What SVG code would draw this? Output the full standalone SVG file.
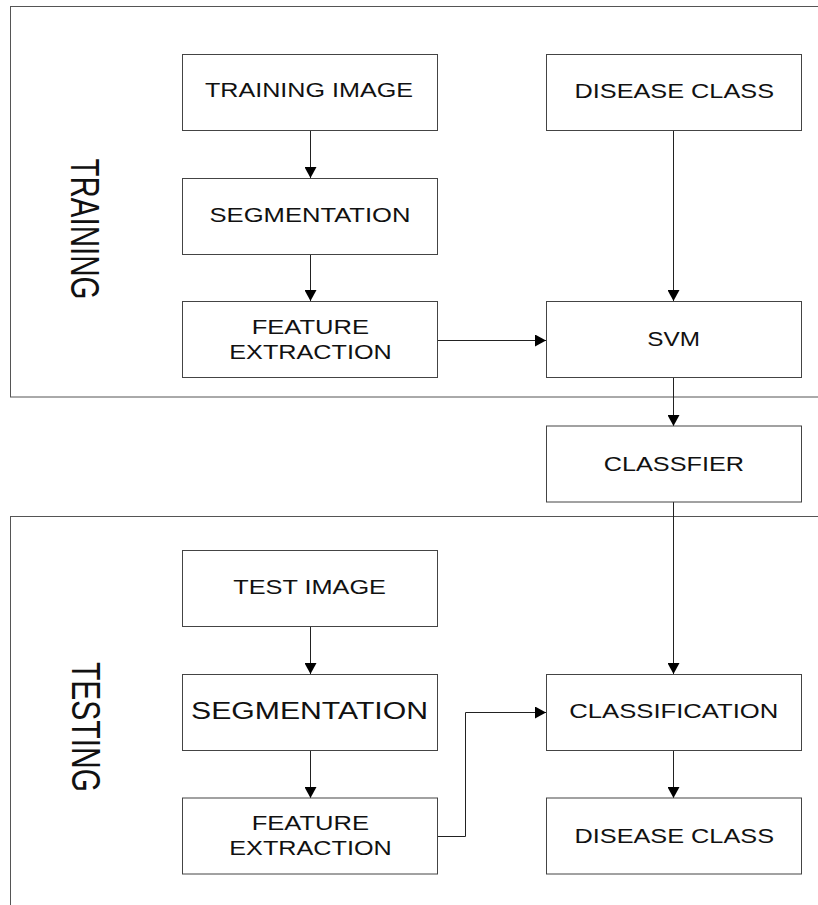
<svg xmlns="http://www.w3.org/2000/svg" width="818" height="905" viewBox="0 0 818 905">
<style>
.frame{fill:none;stroke:#555;stroke-width:1}
.box{fill:#fff;stroke:#444;stroke-width:1}
.t{font-family:"Liberation Sans",Arial,sans-serif;fill:#111}
.c{fill:none;stroke:#222;stroke-width:1}
</style>
<defs>
<marker id="ah" markerWidth="12" markerHeight="12" viewBox="0 0 12 12" refX="11" refY="6" orient="auto" markerUnits="userSpaceOnUse">
<path d="M0,0 L11,6 L0,12 Z" fill="#000"/>
</marker>
</defs>
<rect width="818" height="905" fill="#fff"/>
<g id="frames">
<rect class="frame" x="10.5" y="6.5" width="830" height="390.5"/>
<rect class="frame" x="10.5" y="516.5" width="830" height="420"/>
<text class="t" font-size="40" transform="translate(71,229) rotate(90)" text-anchor="middle" textLength="141" lengthAdjust="spacingAndGlyphs">TRAINING</text>
<text class="t" font-size="40" transform="translate(71.5,727) rotate(90)" text-anchor="middle" textLength="130" lengthAdjust="spacingAndGlyphs">TESTING</text>
</g>
<g id="connectors">
<line class="c" x1="310.5" y1="130" x2="310.5" y2="178" marker-end="url(#ah)"/>
<line class="c" x1="310.5" y1="254" x2="310.5" y2="301" marker-end="url(#ah)"/>
<line class="c" x1="673.5" y1="130" x2="673.5" y2="301" marker-end="url(#ah)"/>
<line class="c" x1="437" y1="340.5" x2="546" y2="340.5" marker-end="url(#ah)"/>
<line class="c" x1="673.5" y1="378" x2="673.5" y2="426" marker-end="url(#ah)"/>
<line class="c" x1="673.5" y1="502" x2="673.5" y2="674" marker-end="url(#ah)"/>
<line class="c" x1="310.5" y1="626" x2="310.5" y2="674" marker-end="url(#ah)"/>
<line class="c" x1="310.5" y1="750" x2="310.5" y2="798" marker-end="url(#ah)"/>
<polyline class="c" points="437,836.5 465.5,836.5 465.5,712.5 546,712.5" marker-end="url(#ah)"/>
<line class="c" x1="673.5" y1="750" x2="673.5" y2="798" marker-end="url(#ah)"/>
</g>
<g id="training-image">
<rect class="box" x="182.5" y="54.5" width="255" height="76"/>
<text class="t" font-size="20.5" x="205" y="97.3" textLength="208" lengthAdjust="spacingAndGlyphs">TRAINING IMAGE</text>
</g>
<g id="disease-class-train">
<rect class="box" x="546.5" y="54.5" width="255" height="76"/>
<text class="t" font-size="20.5" x="574.5" y="98" textLength="199.5" lengthAdjust="spacingAndGlyphs">DISEASE CLASS</text>
</g>
<g id="segmentation-train">
<rect class="box" x="182.5" y="178.5" width="255" height="76"/>
<text class="t" font-size="21" x="209.5" y="221.7" textLength="201" lengthAdjust="spacingAndGlyphs">SEGMENTATION</text>
</g>
<g id="feature-train">
<rect class="box" x="182.5" y="301.5" width="255" height="76"/>
<text class="t" font-size="20" x="251.7" y="334" textLength="117.3" lengthAdjust="spacingAndGlyphs">FEATURE</text>
<text class="t" font-size="20" x="229.3" y="358.7" textLength="162.4" lengthAdjust="spacingAndGlyphs">EXTRACTION</text>
</g>
<g id="svm">
<rect class="box" x="546.5" y="301.5" width="255" height="76"/>
<text class="t" font-size="20" x="647.3" y="345.7" textLength="52.7" lengthAdjust="spacingAndGlyphs">SVM</text>
</g>
<g id="classifier">
<rect class="box" x="546.5" y="426" width="255" height="76"/>
<text class="t" font-size="21" x="603.7" y="470.7" textLength="140.3" lengthAdjust="spacingAndGlyphs">CLASSFIER</text>
</g>
<g id="test-image">
<rect class="box" x="182.5" y="550.5" width="255" height="76"/>
<text class="t" font-size="21" x="233.3" y="594" textLength="152.7" lengthAdjust="spacingAndGlyphs">TEST IMAGE</text>
</g>
<g id="segmentation-test">
<rect class="box" x="182.5" y="674.5" width="255" height="76"/>
<text class="t" font-size="23" x="191" y="719.3" textLength="237" lengthAdjust="spacingAndGlyphs">SEGMENTATION</text>
</g>
<g id="feature-test">
<rect class="box" x="182.5" y="798" width="255" height="76"/>
<text class="t" font-size="20" x="251.7" y="830" textLength="117.3" lengthAdjust="spacingAndGlyphs">FEATURE</text>
<text class="t" font-size="20" x="229.3" y="854.7" textLength="162.4" lengthAdjust="spacingAndGlyphs">EXTRACTION</text>
</g>
<g id="classification">
<rect class="box" x="546.5" y="674.5" width="255" height="76"/>
<text class="t" font-size="21" x="569.3" y="718.3" textLength="209" lengthAdjust="spacingAndGlyphs">CLASSIFICATION</text>
</g>
<g id="disease-class-test">
<rect class="box" x="546.5" y="798" width="255" height="76"/>
<text class="t" font-size="20.5" x="574.5" y="842.7" textLength="199.5" lengthAdjust="spacingAndGlyphs">DISEASE CLASS</text>
</g>
</svg>
